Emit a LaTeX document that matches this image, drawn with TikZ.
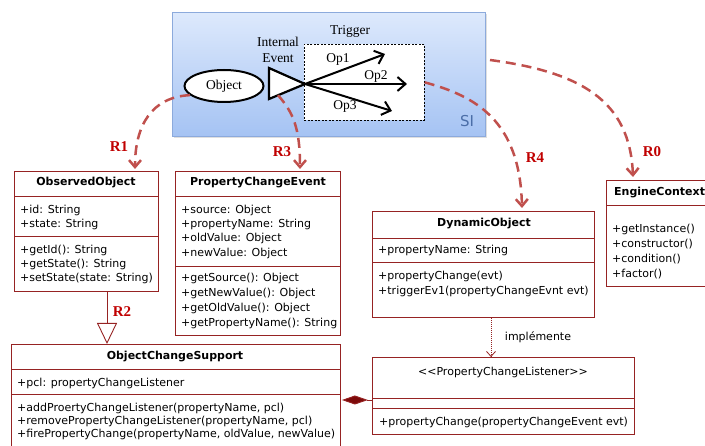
\documentclass[tikz,border=0pt]{standalone}
\usepackage{fontspec}
\setmainfont{Liberation Serif}
\setsansfont{DejaVu Sans}
\usetikzlibrary{arrows.meta,shapes.geometric,shadows,calc}
\definecolor{umlred}{RGB}{150,35,35}
\definecolor{umldark}{RGB}{125,10,10}
\definecolor{relred}{RGB}{192,80,77}
\definecolor{labred}{RGB}{192,0,0}
\definecolor{sitop}{RGB}{221,233,252}
\definecolor{sibot}{RGB}{165,195,243}
\definecolor{siline}{RGB}{140,170,220}
\definecolor{sitext}{RGB}{75,110,168}
\newcommand{\umlsize}{11}

\tikzset{
  umlbox/.style={draw=umlred, fill=white, line width=.9pt, inner sep=0, anchor=north west},
  umlline/.style={draw=umlred, line width=.9pt},
  umltxt/.style={font=\sffamily\fontsize{\umlsize}{#1}\selectfont, anchor=north west, align=left, inner sep=0},
  umltxt/.default=14,
  umltitle/.style={font=\sffamily\bfseries\fontsize{\umlsize}{12}\selectfont, inner sep=0},
  rel/.style={draw=relred, line width=2.5pt, dash pattern=on 10pt off 6pt, -{Straight Barb[length=7pt,width=12pt]}},
  rlabel/.style={font=\bfseries\fontsize{15}{15}\selectfont, text=labred, inner sep=0},
  oparrow/.style={line width=2pt, -{Straight Barb[length=8pt,width=14pt]}},
  serif/.style={font=\fontsize{13.5}{16}\selectfont, inner sep=0}
}

\begin{document}
\begin{tikzpicture}[x=1pt,y=-1pt]
\useasboundingbox (0,0) rectangle (705,446);
\clip (0,0) rectangle (705,446);

% system box
\node[draw=siline, line width=.8pt, top color=sitop, bottom color=sibot,
  drop shadow={opacity=.25, shadow xshift=1.5pt, shadow yshift=-1.5pt},
  minimum width=313pt, minimum height=124pt, anchor=north west, inner sep=0] (si) at (172,12) {};
\node[font=\sffamily\fontsize{15}{15}\selectfont, text=sitext, inner sep=0] (silbl) at (467,121) {SI};

\node[draw, line width=.7pt, dash pattern=on 2pt off 1.5pt, fill=white,
  minimum width=120pt, minimum height=76pt, anchor=north west, inner sep=0] (trig) at (304,44) {};
\node[serif] (triglbl) at (350,31) {Trigger};
\node[serif, align=center] (evlbl) at (278,50) {Internal\\Event};

\node[draw, ellipse, line width=2pt, fill=white, minimum width=79pt, minimum height=32pt,
  inner sep=0, font=\fontsize{13.5}{14}\selectfont] (obj) at (224,86) {Object};

\coordinate (ev1) at (269,68);
\coordinate (ev2) at (269,99);
\coordinate (evtip) at (305,84);
\draw[line width=2.2pt, fill=white] (ev1) -- (evtip) -- (ev2) -- cycle;

\coordinate (op1) at (385,54);
\coordinate (op2) at (407,84);
\coordinate (op3) at (392,111);
\draw[oparrow] (evtip) -- (op1);
\draw[oparrow] (evtip) -- (op2);
\draw[oparrow] (evtip) -- (op3);
\node[serif] (op1lbl) at (338,59) {Op1};
\node[serif] (op2lbl) at (376,76) {Op2};
\node[serif] (op3lbl) at (345,106) {Op3};

% classes
\node[umlbox, minimum width=144pt, minimum height=120pt] (obs) at (14,171) {};
\draw[umlline] (obs.west |- 0,196) -- (obs.east |- 0,196);
\draw[umlline] (obs.west |- 0,236) -- (obs.east |- 0,236);
\node[umltitle] (obsname) at (86,183) {ObservedObject};
\node[umltxt] (obsatt) at (20,204.5) {+id: String\\+state: String};
\node[umltxt] (obsop) at (20,245) {+getId(): String\\+getState(): String\\+setState(state: String)};

\node[umlbox, minimum width=165pt, minimum height=164pt] (pce) at (175,171) {};
\draw[umlline] (pce.west |- 0,196) -- (pce.east |- 0,196);
\draw[umlline] (pce.west |- 0,266) -- (pce.east |- 0,266);
\node[umltitle] (pcename) at (258,183) {PropertyChangeEvent};
\node[umltxt=14.4] (pceatt) at (181,204.5) {+source: Object\\+propertyName: String\\+oldValue: Object\\+newValue: Object};
\node[umltxt=15] (pceop) at (181,273) {+getSource(): Object\\+getNewValue(): Object\\+getOldValue(): Object\\+getPropertyName(): String};

\node[umlbox, minimum width=222pt, minimum height=106pt] (dyn) at (372,211) {};
\draw[umlline] (dyn.west |- 0,238) -- (dyn.east |- 0,238);
\draw[umlline] (dyn.west |- 0,262) -- (dyn.east |- 0,262);
\node[umltitle] (dynname) at (484,224) {DynamicObject};
\node[umltxt] (dynatt) at (378,245) {+propertyName: String};
\node[umltxt=15] (dynop) at (378,271) {+propertyChange(evt)\\+triggerEv1(propertyChangeEvnt evt)};

\node[umlbox, minimum width=110pt, minimum height=106pt] (eng) at (606,180) {};
\draw[umlline] (eng.west |- 0,205) -- (eng.east |- 0,205);
\node[umltitle, anchor=west] (engname) at (614,193) {EngineContext};
\node[umltxt=15] (engop) at (612,224) {+getInstance()\\+constructor()\\+condition()\\+factor()};

\node[umlbox, minimum width=329pt, minimum height=103pt] (sup) at (11,344) {};
\draw[umlline] (sup.west |- 0,369) -- (sup.east |- 0,369);
\draw[umlline] (sup.west |- 0,394) -- (sup.east |- 0,394);
\node[umltitle] (supname) at (175,357) {ObjectChangeSupport};
\node[umltxt] (supatt) at (17,378) {+pcl: propertyChangeListener};
\node[umltxt=13] (supop) at (17,403) {+addProertyChangeListener(propertyName, pcl)\\+removePropertyChangeListener(propertyName, pcl)\\+firePropertyChange(propertyName, oldValue, newValue)};

\node[umlbox, minimum width=262pt, minimum height=77pt] (lis) at (372,357) {};
\draw[umlline] (lis.west |- 0,398) -- (lis.east |- 0,398);
\draw[umlline] (lis.west |- 0,408) -- (lis.east |- 0,408);
\node[umltxt, anchor=center] (lisname) at (503,372) {<{}<PropertyChangeListener>{}>};
\node[umltxt] (lisop) at (379,416.5) {+propertyChange(propertyChangeEvent evt)};

% uml relations
\draw[umlline, -{Triangle[open,length=21pt,width=20pt]}]
  ($(obs.south west)+(93,0)$) -- ($(sup.north west)+(96,0)$);
\node[rlabel] (r2) at (122,312) {R2};

\draw[umlline, line width=.8pt, dash pattern=on 1pt off 1pt, -{Straight Barb[length=5pt,width=9pt]}]
  ($(dyn.south west)+(119,0)$) -- ($(lis.north west)+(119,0)$);
\node[umltxt, anchor=center] (impl) at (538,337) {implémente};

\draw[umlline, -{Diamond[length=26pt,width=9pt,fill=umldark]}]
  ($(lis.north west)+(0,43)$) -- ($(sup.north east)+(1,56)$);

% dashed links from the system
\coordinate (r1tip) at (135,169);
\coordinate (r3tip) at (300,169);
\coordinate (r4tip) at (522,208);
\coordinate (r0start) at (490,60);
\coordinate (r0tip) at (633,177);

\draw[rel] (obj.195) .. controls (152,97) and (135,125) .. (r1tip);
\draw[rel] ($(ev2)!0.25!(evtip)$) .. controls (293,112) and (300,128) .. (r3tip);
\draw[rel] (trig.east) .. controls (475,96) and (520,120) .. (r4tip);
\draw[rel] (r0start) .. controls (580,72) and (630,100) .. (r0tip);

\node[rlabel] (r1) at (119,147) {R1};
\node[rlabel] (r3) at (282,152) {R3};
\node[rlabel] (r4) at (535,158) {R4};
\node[rlabel] (r0) at (652,152) {R0};

\end{tikzpicture}
\end{document}
